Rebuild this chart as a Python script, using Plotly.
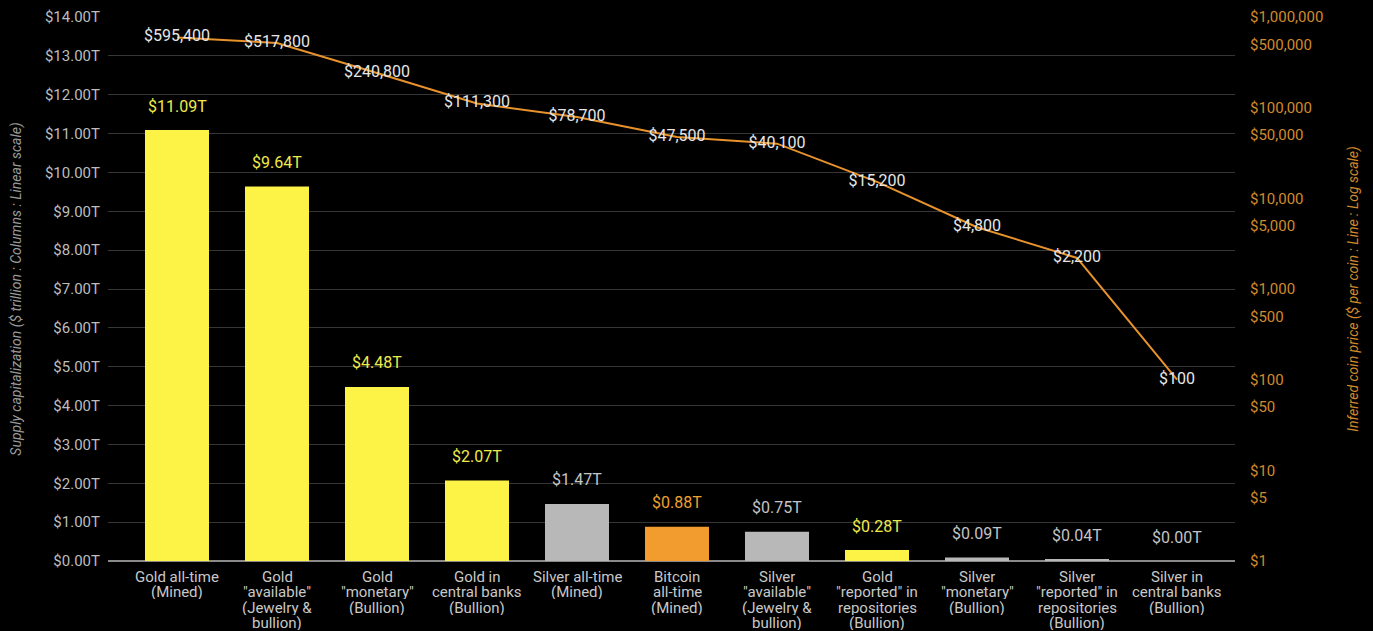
import plotly.graph_objects as go

categories = [
    "Gold all-time<br>(Mined)",
    "Gold<br>\"available\"<br>(Jewelry &<br>bullion)",
    "Gold<br>\"monetary\"<br>(Bullion)",
    "Gold in<br>central banks<br>(Bullion)",
    "Silver all-time<br>(Mined)",
    "Bitcoin<br>all-time<br>(Mined)",
    "Silver<br>\"available\"<br>(Jewelry &<br>bullion)",
    "Gold<br>\"reported\" in<br>repositories<br>(Bullion)",
    "Silver<br>\"monetary\"<br>(Bullion)",
    "Silver<br>\"reported\" in<br>repositories<br>(Bullion)",
    "Silver in<br>central banks<br>(Bullion)",
]
supply_cap_trillion = [11.09, 9.64, 4.48, 2.07, 1.47, 0.88, 0.75, 0.28, 0.09, 0.04, 0.00]
coin_price = [595400, 517800, 240800, 111300, 78700, 47500, 40100, 15200, 4800, 2200, 100]
asset_kind = ["gold", "gold", "gold", "gold", "silver", "bitcoin", "silver", "gold", "silver", "silver", "silver"]

left_ticks = list(range(0, 15))
right_ticks = [1, 5, 10, 50, 100, 500, 1000, 5000, 10000, 50000, 100000, 500000, 1000000]

bar_colors = {"gold": "#fdf246", "silver": "#b8b8b8", "bitcoin": "#f29b2e"}
label_colors = {"gold": "#f0ea4a", "silver": "#c4c4c4", "bitcoin": "#f0a030"}

x = list(range(len(categories)))
FONT = "Roboto"

fig = go.Figure()
fig.add_trace(go.Bar(
    x=x, y=supply_cap_trillion,
    marker=dict(color=[bar_colors[k] for k in asset_kind], line=dict(width=0)),
    width=0.64, yaxis="y", hoverinfo="skip",
))
fig.add_trace(go.Scatter(
    x=x, y=coin_price, yaxis="y2", mode="lines+text",
    line=dict(color="#e8922c", width=2),
    text=[f"${v:,}" for v in coin_price], textposition="middle center",
    textfont=dict(color="#e6e6e6", size=16, family=FONT),
    hoverinfo="skip",
))

for xi, v, k in zip(x, supply_cap_trillion, asset_kind):
    fig.add_annotation(
        x=xi, y=v, xref="x", yref="y", text=f"${v:.2f}T", showarrow=False,
        yshift=24, font=dict(color=label_colors[k], size=16, family=FONT),
    )

# category labels, one annotation per line for tighter line spacing
LINE_H = 15.5
for xi, cat in zip(x, categories):
    for i, line in enumerate(cat.split("<br>")):
        fig.add_annotation(
            x=xi, y=0, xref="x", yref="paper", text=line, showarrow=False,
            yanchor="middle", yshift=-(15 + LINE_H * i),
            height=15, borderpad=0,
            font=dict(color="#c8c8c8", size=15, family=FONT),
        )

fig.update_layout(
    width=1373, height=631,
    paper_bgcolor="black", plot_bgcolor="black",
    margin=dict(l=108, r=138, t=17, b=70),
    showlegend=False,
    font=dict(family=FONT, color="#bdbdbd", size=15),
    xaxis=dict(
        tickmode="array", tickvals=x, showticklabels=False,
        range=[-0.69, 10.58], showgrid=False, zeroline=False,
        ticks="", showline=False, automargin=False,
    ),
    yaxis=dict(
        range=[0, 14], tickmode="array", tickvals=left_ticks,
        ticktext=[f"${v:.2f}T" for v in left_ticks],
        gridcolor="#363636", gridwidth=1,
        zeroline=True, zerolinecolor="#8a8a8a", zerolinewidth=2,
        tickfont=dict(color="#bdbdbd", size=15, family=FONT),
        ticks="", ticklabelstandoff=7, automargin=False,
        title=dict(text="<i>Supply capitalization ($ trillion : Columns : Linear scale)</i>",
                   font=dict(color="#9a9a9a", size=14, family=FONT), standoff=20),
    ),
    yaxis2=dict(
        type="log", range=[0, 6], overlaying="y", side="right",
        tickmode="array", tickvals=right_ticks,
        ticktext=[f"${v:,}" for v in right_ticks],
        showgrid=False, zeroline=False,
        tickfont=dict(color="#d08a2c", size=15, family=FONT),
        ticks="", ticklabelstandoff=14, automargin=False,
        title=dict(text="<i>Inferred coin price ($ per coin : Line : Log scale)</i>",
                   font=dict(color="#d08a2c", size=14, family=FONT), standoff=25),
    ),
)

fig.write_html(
    "out.html",
    config={"displayModeBar": False},
    post_script="document.body.style.margin='0';document.body.style.background='black';",
)
